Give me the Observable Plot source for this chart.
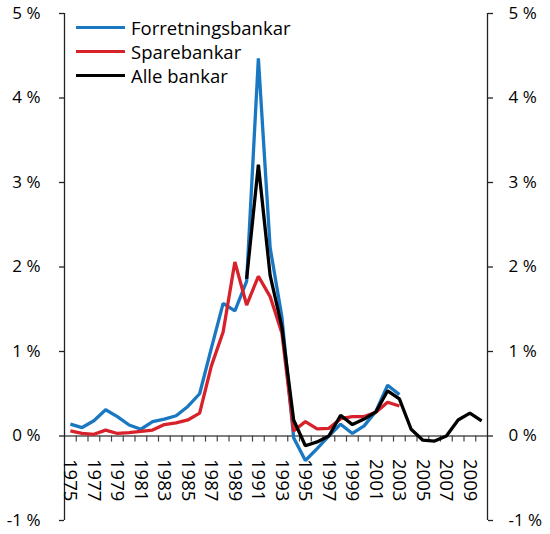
<!DOCTYPE html>
<html>
<head>
<meta charset="utf-8">
<script src="https://cdn.jsdelivr.net/npm/d3@7"></script>
<script src="https://cdn.jsdelivr.net/npm/@observablehq/plot@0.6"></script>
<style>
  html, body { margin: 0; padding: 0; background: #fff; }
  #wrap { position: relative; width: 550px; height: 534px; font-family: "Open Sans", sans-serif; }
  #legend { position: absolute; left: 76px; top: 15px; font-size: 18.5px; color: #000; }
  .row { display: flex; align-items: center; height: 24px; }
  .sw { width: 49px; height: 3.3px; margin-right: 6px; margin-top: 1px; }
</style>
</head>
<body>
<div id="wrap"><div id="legend"></div></div>
<script>
const yearsBank = d3.range(1975, 2004);
const forretningsbankar = [0.14, 0.10, 0.18, 0.31, 0.23, 0.13, 0.08, 0.17, 0.20, 0.24, 0.35, 0.50, 1.04, 1.57, 1.48, 1.83, 4.47, 2.23, 1.41, -0.02, -0.29, -0.15, 0.00, 0.14, 0.03, 0.12, 0.29, 0.60, 0.49];
const sparebankar = [0.06, 0.03, 0.02, 0.07, 0.03, 0.04, 0.055, 0.07, 0.135, 0.155, 0.19, 0.27, 0.83, 1.23, 2.06, 1.55, 1.89, 1.65, 1.22, 0.06, 0.17, 0.085, 0.09, 0.205, 0.23, 0.23, 0.28, 0.40, 0.355];
const yearsAlle = d3.range(1990, 2011);
const alleBankar = [1.86, 3.21, 1.90, 1.29, 0.19, -0.115, -0.07, 0.00, 0.245, 0.135, 0.20, 0.285, 0.535, 0.44, 0.08, -0.05, -0.06, 0.00, 0.19, 0.27, 0.18];
const yTicks = [-1, 0, 1, 2, 3, 4, 5];
const yearLabels = d3.range(1975, 2010, 2);
const categoryBounds = d3.range(1975.5, 2010.5, 1);

const seriesNames = ["Forretningsbankar", "Sparebankar", "Alle bankar"];
const seriesColors = ["#1a78c2", "#d7222c", "#000000"];

const rows = [
  ...yearsBank.map((y, i) => ({year: y, value: forretningsbankar[i], series: seriesNames[0]})),
  ...yearsBank.map((y, i) => ({year: y, value: sparebankar[i], series: seriesNames[1]})),
  ...yearsAlle.map((y, i) => ({year: y, value: alleBankar[i], series: seriesNames[2]}))
];

const fmt = d => `${d < 0 ? "-" : ""}${Math.abs(d)} %`;
const font = '"Open Sans", sans-serif';

const chart = Plot.plot({
  width: 550,
  height: 534,
  marginLeft: 64,
  marginRight: 63,
  marginTop: 13,
  marginBottom: 14,
  style: {fontFamily: font, background: "#fff", color: "#000", overflow: "visible"},
  x: {domain: [1974.5, 2010.5], axis: null},
  y: {domain: [-1, 5], axis: null},
  color: {domain: seriesNames, range: seriesColors},
  marks: [
    Plot.ruleY([0], {stroke: "#555", strokeWidth: 1.3}),
    Plot.ruleX(categoryBounds, {y1: 0, y2: -0.072, stroke: "#444", strokeWidth: 1.2}),
    Plot.ruleX([1974.5, 2010.5], {y1: -1, y2: 5, stroke: "#222", strokeWidth: 1.3}),
    Plot.axisY(yTicks, {anchor: "left", tickSize: 5, tickPadding: 19, tickFormat: fmt, fontSize: 17, stroke: "#222", strokeWidth: 1.3, label: null}),
    Plot.axisY(yTicks, {anchor: "right", tickSize: 5, tickPadding: 16, tickFormat: fmt, fontSize: 17, stroke: "#222", strokeWidth: 1.3, label: null}),
    Plot.text(yearLabels, {x: d => d, y: 0, text: d => String(d), rotate: 90, textAnchor: "start", dy: 23, fontSize: 18.5, fill: "#000"}),
    Plot.line(rows, {x: "year", y: "value", z: "series", stroke: "series", strokeWidth: 3.3, strokeLinejoin: "miter", strokeLinecap: "butt"})
  ]
});

const wrap = document.getElementById("wrap");
wrap.insertBefore(chart, wrap.firstChild);

const legend = document.getElementById("legend");
seriesNames.forEach((name, i) => {
  const row = document.createElement("div");
  row.className = "row";
  const sw = document.createElement("div");
  sw.className = "sw";
  sw.style.background = seriesColors[i];
  const label = document.createElement("span");
  label.textContent = name;
  row.appendChild(sw);
  row.appendChild(label);
  legend.appendChild(row);
});
</script>
</body>
</html>
